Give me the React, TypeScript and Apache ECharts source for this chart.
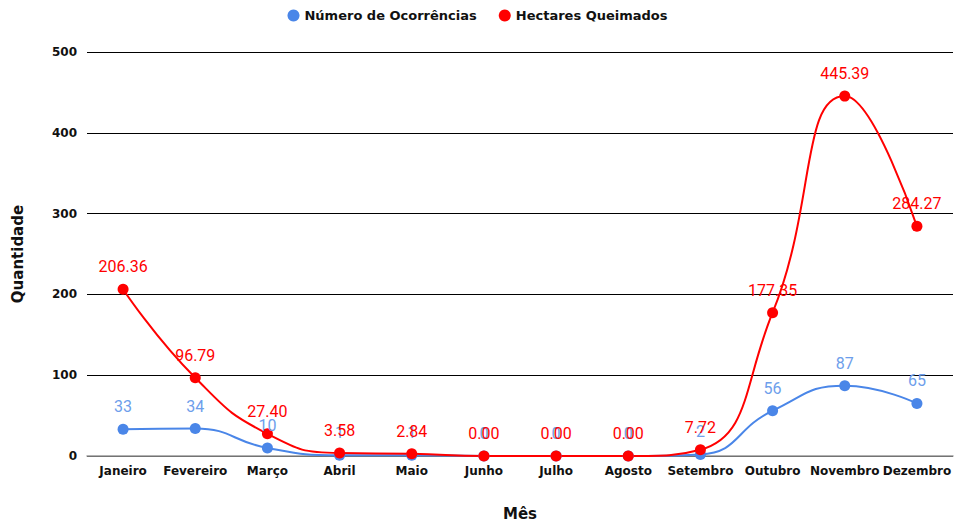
import React, { useEffect, useRef } from "react";
import * as echarts from "echarts";

const months = ["Janeiro", "Fevereiro", "Março", "Abril", "Maio", "Junho", "Julho", "Agosto", "Setembro", "Outubro", "Novembro", "Dezembro"];
const ocorrencias = [33, 34, 10, 1, 1, 0, 0, 0, 2, 56, 87, 65];
const hectares = [206.36, 96.79, 27.4, 3.58, 2.84, 0, 0, 0, 7.72, 177.35, 445.39, 284.27];

export default function App() {
  const ref = useRef<HTMLDivElement>(null);
  useEffect(() => {
    const chart = echarts.init(ref.current!, null, { renderer: "svg" });
    chart.setOption({
      animation: false,
      backgroundColor: "#ffffff",
      legend: {
        top: 4,
        left: "center",
        itemGap: 22,
        itemWidth: 12,
        itemHeight: 12,
        icon: "circle",
        textStyle: { fontFamily: "DejaVu Sans", fontWeight: "bold", fontSize: 13, color: "#111" },
        data: ["Número de Ocorrências", "Hectares Queimados"],
      },
      grid: { left: 87, width: 866, top: 52, bottom: 69, outerBoundsMode: "none", containLabel: false },
      xAxis: {
        type: "category",
        data: months,
        name: "Mês",
        nameLocation: "middle",
        nameGap: 50,
        nameTextStyle: { fontFamily: "DejaVu Sans", fontWeight: "bold", fontSize: 15, color: "#111" },
        axisTick: { show: false },
        axisLine: { lineStyle: { color: "#999", width: 1.5 } },
        axisLabel: { fontFamily: "DejaVu Sans", fontWeight: "bold", fontSize: 12, color: "#111", margin: 9, interval: 0 },
      },
      yAxis: {
        type: "value",
        min: 0,
        max: 500,
        interval: 100,
        name: "Quantidade",
        nameLocation: "middle",
        nameGap: 62,
        nameTextStyle: { fontFamily: "DejaVu Sans", fontWeight: "bold", fontSize: 15, color: "#111" },
        axisLabel: { fontFamily: "DejaVu Sans", fontWeight: "bold", fontSize: 12, color: "#111", margin: 10 },
        splitLine: { lineStyle: { color: "#000", width: 1 } },
        axisLine: { show: false },
        axisTick: { show: false },
      },
      series: [
        {
          name: "Número de Ocorrências",
          type: "line",
          data: ocorrencias,
          smooth: true,
          symbol: "circle",
          symbolSize: 11,
          color: "#4a86e8",
          lineStyle: { width: 2, color: "#4a86e8" },
          label: {
            show: true,
            position: "top",
            distance: 9,
            fontFamily: "Roboto",
            fontSize: 16,
            color: "#6d9eeb",
          },
        },
        {
          name: "Hectares Queimados",
          type: "line",
          data: hectares,
          smooth: true,
          symbol: "circle",
          symbolSize: 11,
          color: "#ff0000",
          lineStyle: { width: 2, color: "#ff0000" },
          label: {
            show: true,
            position: "top",
            distance: 9,
            fontFamily: "Roboto",
            fontSize: 16,
            color: "#ff0000",
            formatter: (p: any) => Number(p.value).toFixed(2),
          },
        },
      ],
    });
    return () => chart.dispose();
  }, []);
  return <div ref={ref} style={{ position: "fixed", left: 0, top: 0, width: 955, height: 525 }} />;
}
